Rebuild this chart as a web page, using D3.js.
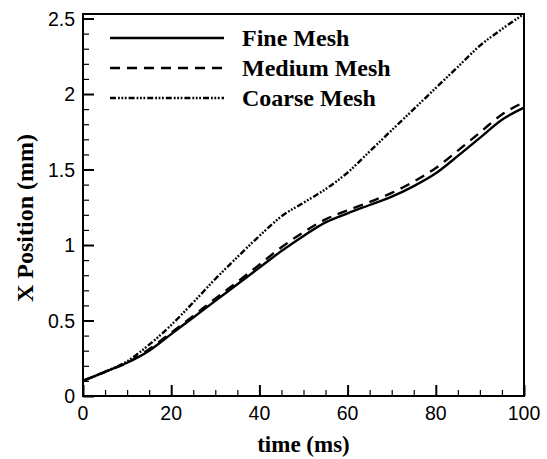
<!DOCTYPE html>
<html>
<head>
<meta charset="utf-8">
<script src="https://cdn.jsdelivr.net/npm/d3@7"></script>
<style>
body { margin: 0; background: #fff; }
svg { display: block; }
</style>
</head>
<body>
<svg id="chart" width="547" height="459"></svg>
<script>
const times = [0,5,10,15,20,25,30,35,40,45,50,55,60,65,70,75,80,85,90,95,100];
const fineMesh   = [0.10,0.16,0.22,0.30,0.41,0.52,0.63,0.74,0.85,0.96,1.06,1.15,1.21,1.265,1.32,1.39,1.475,1.59,1.71,1.83,1.91];
const mediumMesh = [0.10,0.16,0.22,0.31,0.42,0.53,0.645,0.755,0.87,0.985,1.085,1.17,1.23,1.285,1.345,1.42,1.51,1.625,1.745,1.865,1.945];
const coarseMesh = [0.10,0.16,0.23,0.34,0.47,0.62,0.775,0.92,1.06,1.19,1.28,1.37,1.48,1.62,1.76,1.90,2.04,2.18,2.32,2.43,2.53];
const seriesNames = ["Fine Mesh","Medium Mesh","Coarse Mesh"];
const xTicks = [0,20,40,60,80,100];
const yTicks = [0,0.5,1,1.5,2,2.5];
const yTickLabels = ["0","0.5","1","1.5","2","2.5"];

const svg = d3.select("#chart");
const L = 83, R = 524, T = 14, B = 396;
const x = d3.scaleLinear().domain([0,100]).range([L,R]);
const y = d3.scaleLinear().domain([0,2.53]).range([B,T]);

const styles = [
  {dash: null, w: 2.4},
  {dash: "10,7", w: 2.4},
  {dash: "6,2,1.8,1.6,1.8,1.6,1.8,2", w: 2.4}
];
const data = [fineMesh, mediumMesh, coarseMesh];

const line = d3.line().x((d,i)=>x(times[i])).y(d=>y(d)).curve(d3.curveMonotoneX);

svg.append("defs").append("clipPath").attr("id","clip")
  .append("rect").attr("x",L).attr("y",T).attr("width",R-L).attr("height",B-T);

const g = svg.append("g").attr("clip-path","url(#clip)");
data.forEach((s,k)=>{
  g.append("path").datum(s).attr("d",line)
    .attr("fill","none").attr("stroke","#000")
    .attr("stroke-width",styles[k].w)
    .attr("stroke-dasharray",styles[k].dash);
});

// frame
svg.append("rect").attr("x",L).attr("y",T).attr("width",R-L).attr("height",B-T)
  .attr("fill","none").attr("stroke","#000").attr("stroke-width",2);

// x axis ticks (inward)
const xAxis = d3.axisBottom(x).tickValues(d3.range(0,101,5)).tickSize(-6).tickFormat("");
const xg = svg.append("g").attr("transform",`translate(0,${B})`).call(xAxis);
xg.select(".domain").remove();
xg.selectAll(".tick line").attr("stroke","#000")
  .attr("y2", d => xTicks.includes(d) ? -11 : -6)
  .attr("stroke-width", d => xTicks.includes(d) ? 2 : 1.2);
svg.append("g").selectAll("text").data(xTicks).join("text")
  .attr("x", d=>x(d)).attr("y", B+24)
  .attr("text-anchor","middle")
  .attr("font-family","'Liberation Sans', Arial, sans-serif")
  .attr("font-size",19.5).text(d=>d);

// y axis ticks (inward)
const yMinor = d3.range(0,26).map(i=>i/10);
const yAxis = d3.axisLeft(y).tickValues(yMinor).tickSize(-6).tickFormat("");
const yg = svg.append("g").attr("transform",`translate(${L},0)`).call(yAxis);
yg.select(".domain").remove();
const isMajor = d => Math.abs(d*2 - Math.round(d*2)) < 1e-6;
yg.selectAll(".tick line").attr("stroke","#000")
  .attr("x2", d => isMajor(d) ? 11 : 6)
  .attr("stroke-width", d => isMajor(d) ? 2 : 1.2);
svg.append("g").selectAll("text").data(yTicks).join("text")
  .attr("x", L-8).attr("y", d=>y(d)+7)
  .attr("text-anchor","end")
  .attr("font-family","'Liberation Sans', Arial, sans-serif")
  .attr("font-size",19.5).text((d,i)=>yTickLabels[i]);

// axis titles
svg.append("text").attr("x",(L+R)/2).attr("y",452)
  .attr("text-anchor","middle")
  .attr("font-family","'Liberation Serif', 'Times New Roman', serif")
  .attr("font-weight","bold").attr("font-size",23).text("time (ms)");
svg.append("text").attr("transform",`translate(33,218) rotate(-90)`)
  .attr("text-anchor","middle")
  .attr("font-family","'Liberation Serif', 'Times New Roman', serif")
  .attr("font-weight","bold").attr("font-size",24).text("X Position (mm)");

// legend
const legY = [38,68,98];
seriesNames.forEach((n,k)=>{
  svg.append("line").attr("x1",110).attr("x2",224).attr("y1",legY[k]).attr("y2",legY[k])
    .attr("stroke","#000").attr("stroke-width",2.6).attr("stroke-dasharray",styles[k].dash);
  svg.append("text").attr("x",242).attr("y",legY[k]+8)
    .attr("font-family","'Liberation Serif', 'Times New Roman', serif")
    .attr("font-weight","bold").attr("font-size",24).text(n);
});
</script>
</body>
</html>
